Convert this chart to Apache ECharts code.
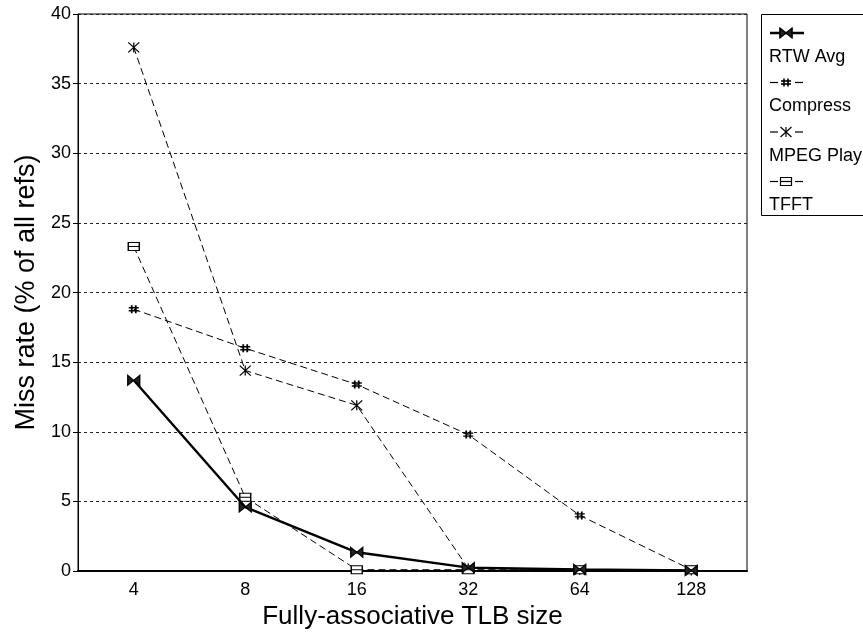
<!DOCTYPE html>
<html><head><meta charset="utf-8">
<script src="https://cdn.jsdelivr.net/npm/echarts@6/dist/echarts.min.js"></script>
<style>html,body{margin:0;padding:0;background:#fff}#c{width:863px;height:635px}</style>
</head><body><div id="c"></div>
<script>
const categories = ['4', '8', '16', '32', '64', '128'];
const rtwAvg   = [13.7, 4.6, 1.35, 0.25, 0.12, 0.05];
const compress = [18.8, 16.0, 13.4, 9.8, 4.0, 0.1];
const mpegPlay = [37.6, 14.4, 11.9, 0.2, 0.08, 0.05];
const tfft     = [23.3, 5.3, 0.1, 0.1, 0.1, 0.1];
const seriesNames = ['RTW Avg', 'Compress', 'MPEG Play', 'TFFT'];
const yMin = 0, yMax = 40, yStep = 5;

const FONT = 'Liberation Sans, Arial, sans-serif';
const symbolPaths = {
  'RTW Avg':   'M0,0L12,10L12,0L0,10ZM0,0L0,10M12,0L12,10',
  'Compress':  'M3,0L3,8M7,0L7,8M0,2.5L10,2.5M0,5.5L10,5.5',
  'MPEG Play': 'M0,0L11,10M0,10L11,0M5.5,0L5.5,10',
  'TFFT':      'M0,0L11,0L11,8L0,8ZM0,4L11,4'
};
const symSizes = {'RTW Avg':[12,10],'Compress':[10,8],'MPEG Play':[11,10],'TFFT':[11,8]};
const dataByName = {'RTW Avg': rtwAvg, 'Compress': compress, 'MPEG Play': mpegPlay, 'TFFT': tfft};

const series = seriesNames.map(function (n) {
  const solid = n === 'RTW Avg';
  return {
    name: n, type: 'line', data: dataByName[n],
    symbol: 'path://' + symbolPaths[n], symbolSize: symSizes[n], showAllSymbol: true,
    lineStyle: {color: '#000', width: solid ? 2.4 : 1, type: solid ? 'solid' : [7, 4]},
    itemStyle: {color: solid ? '#222' : (n === 'TFFT' ? '#fff' : 'rgba(0,0,0,0)'), borderColor: '#000', borderWidth: n === 'Compress' ? 1.6 : 1.2},
    z: solid ? 5 : 3,
    animation: false, emphasis: {disabled: true}
  };
});

function pathToPolys(d, x0, y0) {
  const polys = [];
  let cur = null;
  const re = /([MLZ])([^MLZ]*)/g;
  let m;
  while ((m = re.exec(d)) !== null) {
    if (m[1] === 'M') { cur = {pts: [], closed: false}; polys.push(cur); }
    if (m[1] === 'Z') { cur.closed = true; continue; }
    const p = m[2].split(',').map(Number);
    cur.pts.push([x0 + p[0], y0 + p[1]]);
  }
  return polys;
}

const legendEls = [{type: 'rect', shape: {x: 761.5, y: 14.5, width: 120, height: 201}, style: {fill: '#fff', stroke: '#000', lineWidth: 1}}];
seriesNames.forEach(function (n, i) {
  const cy = 33 + i * 49.5, cx = 786;
  const solid = n === 'RTW Avg';
  if (solid) {
    legendEls.push({type: 'line', shape: {x1: 770, y1: cy, x2: 804, y2: cy}, style: {stroke: '#000', lineWidth: 2.4}});
  } else {
    legendEls.push({type: 'line', shape: {x1: 770, y1: cy, x2: 778, y2: cy}, style: {stroke: '#000', lineWidth: 1.2}});
    legendEls.push({type: 'line', shape: {x1: 795, y1: cy, x2: 803, y2: cy}, style: {stroke: '#000', lineWidth: 1.2}});
  }
  const sz = symSizes[n];
  pathToPolys(symbolPaths[n], cx - sz[0] / 2, cy - sz[1] / 2).forEach(function (pl) {
    if (pl.closed) {
      legendEls.push({type: 'polygon', shape: {points: pl.pts}, style: {fill: solid ? '#222' : '#fff', stroke: '#000', lineWidth: 1.2}});
    } else {
      legendEls.push({type: 'polyline', shape: {points: pl.pts}, style: {fill: null, stroke: '#000', lineWidth: n === 'Compress' ? 1.6 : 1.2}});
    }
  });
  legendEls.push({type: 'text', x: 769, y: cy + 24, style: {text: n, font: '18px ' + FONT, fill: '#000', verticalAlign: 'middle', align: 'left'}});
});

const chart = echarts.init(document.getElementById('c'), null, {renderer: 'canvas'});
chart.setOption({
  backgroundColor: '#fff',
  animation: false,
  grid: {left: 78, right: 116, top: 14, bottom: 62, show: true, borderColor: '#000', borderWidth: 1, backgroundColor: 'transparent'},
  xAxis: {
    type: 'category', data: categories, boundaryGap: true,
    name: 'Fully-associative TLB size', nameLocation: 'middle', nameGap: 31,
    nameTextStyle: {fontFamily: FONT, fontSize: 26, color: '#000'},
    axisLine: {lineStyle: {color: '#000', width: 2}},
    axisTick: {alignWithLabel: true, length: 5, lineStyle: {color: '#000'}},
    axisLabel: {fontFamily: FONT, fontSize: 18, color: '#000', margin: 10},
    splitLine: {show: false}
  },
  yAxis: {
    type: 'value', min: yMin, max: yMax, interval: yStep,
    name: 'Miss rate (% of all refs)', nameLocation: 'middle', nameGap: 38,
    nameTextStyle: {fontFamily: FONT, fontSize: 27, color: '#000'},
    axisLine: {show: true, lineStyle: {color: '#000', width: 1}},
    axisTick: {show: true, length: 5, lineStyle: {color: '#000'}},
    axisLabel: {fontFamily: FONT, fontSize: 18, color: '#000', margin: 7},
    splitLine: {show: true, lineStyle: {color: '#222', width: 1, type: [3, 3]}}
  },
  series: series,
  graphic: legendEls
});
</script></body></html>
